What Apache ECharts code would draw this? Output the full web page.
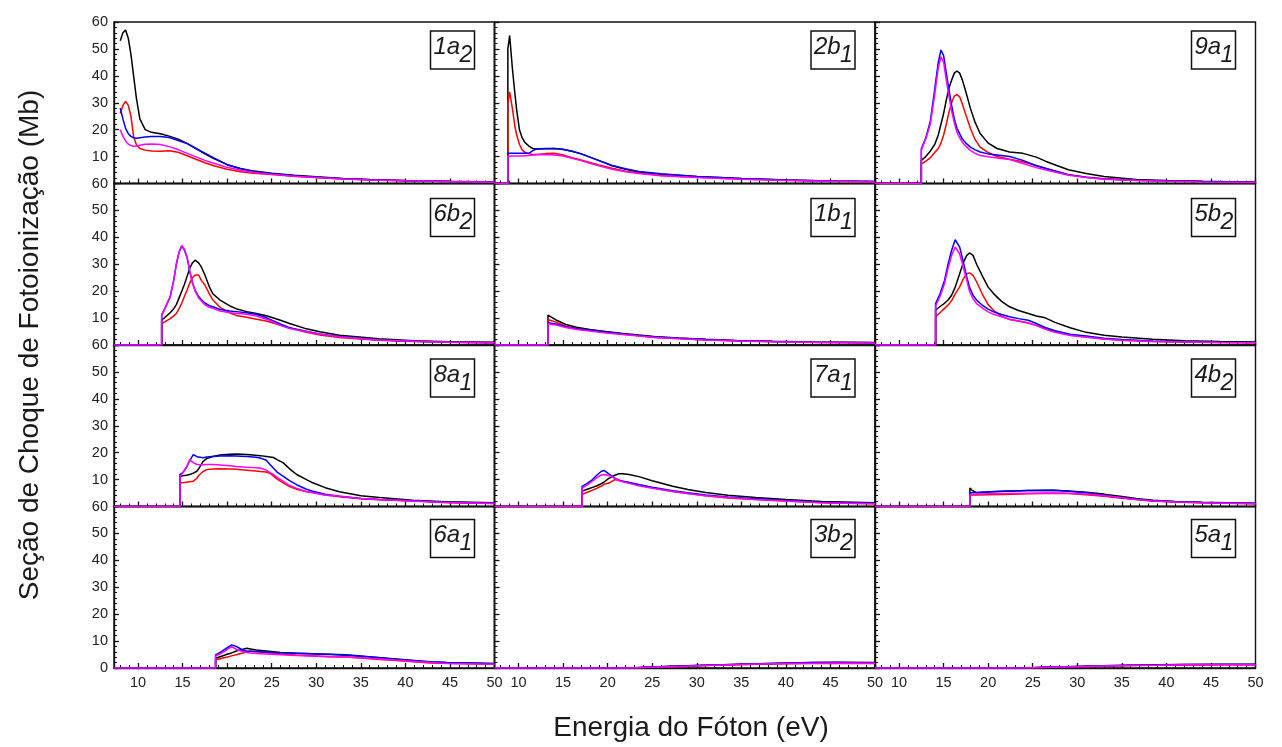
<!DOCTYPE html>
<html>
<head>
<meta charset="utf-8">
<script src="https://cdn.jsdelivr.net/npm/echarts@6/dist/echarts.min.js"></script>
<style>
  html, body { margin: 0; padding: 0; background: #fff; }
  #chart { width: 1282px; height: 747px; }
</style>
</head>
<body>
<div id="chart"></div>
<script>
// tick labels
var xTicks = [10, 15, 20, 25, 30, 35, 40, 45, 50];
var xMinor = [8, 9, 11, 12, 13, 14, 16, 17, 18, 19, 21, 22, 23, 24, 26, 27, 28, 29,
              31, 32, 33, 34, 36, 37, 38, 39, 41, 42, 43, 44, 46, 47, 48, 49];

// 1a2
var E_1a2 = [8.0, 8.3, 8.6, 8.9, 9.2, 9.5, 9.8, 10.2, 10.8, 11.5, 12.5, 13.5, 14.5, 15.5, 16.5, 17.5, 18.5, 20, 21.5, 23, 25, 27.5, 30, 33, 36, 40, 45, 50];
var K_1a2 = [53, 56, 57, 54, 48, 40, 32, 24, 20, 19, 18.5, 17.6, 16.5, 14.9, 13, 11, 9.3, 7, 5.6, 4.6, 3.8, 3.1, 2.5, 1.9, 1.5, 1.1, 0.8, 0.6];
var R_1a2 = [26, 29, 30.5, 29, 25, 17.5, 14.5, 13, 12.4, 12.1, 12, 12.2, 11.6, 10.3, 9, 7.7, 6.6, 5.3, 4.4, 3.8, 3.3, 2.7, 2.2, 1.7, 1.4, 1.0, 0.7, 0.5];
var B_1a2 = [28, 24, 20.5, 18.5, 17.5, 17, 16.8, 17, 17.3, 17.5, 17.5, 17.1, 16, 14.8, 13, 11.3, 9.5, 7, 5.5, 4.5, 3.6, 2.9, 2.3, 1.8, 1.4, 1.0, 0.7, 0.5];
var M_1a2 = [20, 17.5, 15.8, 14.6, 14.1, 13.8, 13.9, 14.2, 14.6, 14.7, 14.5, 13.7, 12.6, 11.2, 9.9, 8.6, 7.5, 6, 4.9, 4.1, 3.4, 2.7, 2.2, 1.7, 1.3, 1.0, 0.7, 0.5];

// 2b1
var E_2b1 = [7.3, 8.8, 8.8, 9.0, 9.3, 9.6, 9.8, 10.1, 10.4, 10.7, 11.2, 11.6, 12.0, 13.0, 14.0, 15.0, 16.0, 17.0, 18.0, 19.0, 20.5, 22, 23.5, 26, 30, 35, 40, 45, 50];
var K_2b1 = [0, 0, 50, 55, 43, 33, 27, 20, 17, 15.3, 13.8, 13, 12.8, 12.9, 13, 12.7, 12, 11, 9.8, 8.6, 6.6, 5.3, 4.3, 3.4, 2.6, 1.9, 1.3, 0.9, 0.7];
var R_2b1 = [0, 0, 30, 34, 28, 21, 18, 14.5, 12.5, 11.6, 11, 10.8, 10.8, 11.1, 11.2, 10.6, 9.6, 8.7, 7.8, 6.9, 5.7, 4.6, 3.9, 3.0, 2.3, 1.7, 1.2, 0.8, 0.6];
var B_2b1 = [0, 0, 11.2, 11.2, 11.2, 11.2, 11.2, 11.2, 11.2, 11.2, 11.3, 12.2, 12.8, 13, 13, 12.6, 12, 11.1, 9.8, 8.5, 6.7, 5.5, 4.5, 3.6, 2.6, 1.9, 1.3, 0.9, 0.7];
var M_2b1 = [0, 0, 10.2, 10.2, 10.2, 10.2, 10.2, 10.2, 10.2, 10.3, 10.4, 10.6, 10.7, 10.8, 10.6, 10.2, 9.4, 8.5, 7.5, 6.6, 5.3, 4.4, 3.7, 2.9, 2.2, 1.6, 1.1, 0.8, 0.6];

// 9a1
var E_9a1 = [7.3, 12.5, 12.5, 13.0, 13.5, 14.0, 14.4, 14.7, 15.0, 15.3, 15.6, 15.9, 16.2, 16.5, 16.8, 17.1, 17.5, 18.0, 18.5, 19.1, 20, 21, 22.4, 23.9, 25.4, 26.5, 27.7, 29, 31, 33, 36.6, 40, 44, 50];
var K_9a1 = [0, 0, 8.6, 10, 12, 14.5, 18, 22, 26, 31, 35.5, 38.4, 41, 41.8, 41, 38.5, 34, 28, 23, 18.6, 15, 13, 11.7, 11.2, 9.8, 8.2, 6.7, 5.1, 3.7, 2.6, 1.5, 1.1, 0.8, 0.5];
var R_9a1 = [0, 0, 7.3, 8.3, 9.5, 11.5, 13, 15, 18, 22, 26.5, 30, 32.5, 33, 32.2, 29.5, 25.5, 20.5, 16.5, 13.5, 11.5, 10, 9, 8.1, 6.7, 5.6, 4.5, 3.3, 2.3, 1.8, 1.2, 0.9, 0.7, 0.5];
var B_9a1 = [0, 0, 12.9, 17, 23, 35, 45, 49.6, 47.5, 41, 35, 29, 24, 20.5, 18.5, 16.5, 15, 13.5, 12.6, 11.7, 11, 10.6, 10, 8.6, 6.6, 5.6, 4.5, 3.3, 2.3, 1.7, 1.2, 0.9, 0.7, 0.5];
var M_9a1 = [0, 0, 12.5, 16.5, 22, 33, 43, 47.1, 45, 38.5, 32.5, 27, 22.5, 19, 17, 15.3, 13.8, 12.3, 11.3, 10.4, 9.9, 9.5, 8.9, 7.4, 5.9, 5, 4.1, 3.1, 2.2, 1.6, 1.1, 0.8, 0.6, 0.4];

// 6b2
var E_6b2 = [7.3, 12.65, 12.65, 13.0, 13.6, 14.0, 14.3, 14.6, 14.9, 15.2, 15.5, 15.8, 16.1, 16.4, 16.8, 17.1, 17.5, 18.0, 18.4, 19.2, 20.3, 21, 22.2, 23.3, 24.5, 25.9, 27, 28.9, 30.4, 32.6, 34.5, 37, 41, 45, 50];
var K_6b2 = [0, 0, 9.3, 10.2, 12, 13.5, 15, 17.5, 20, 22.5, 25.5, 28.5, 30.5, 31.5, 30.5, 29, 26, 21.6, 19, 16.7, 14.5, 13.5, 12.4, 11.7, 10.8, 9.3, 8, 6, 4.9, 3.6, 3.1, 2.3, 1.6, 1.2, 1.0];
var R_6b2 = [0, 0, 8, 8.6, 9.8, 10.8, 11.7, 13.5, 15.5, 18, 20.4, 23, 25, 26, 26, 24, 22.3, 19, 16.7, 14, 11.9, 11, 10.3, 9.6, 8.8, 7.4, 6.3, 4.7, 3.7, 2.8, 2.3, 1.8, 1.3, 1.0, 0.8];
var B_6b2 = [0, 0, 11.1, 13.5, 17.9, 24, 30, 34.5, 36.8, 35.3, 32.5, 27.5, 23.2, 20.3, 18, 16.8, 15.6, 14.6, 14.2, 13.2, 12.6, 12.4, 12.0, 11.3, 10.0, 7.9, 6.4, 5.1, 4.1, 3.2, 2.6, 1.9, 1.4, 1.0, 0.8];
var M_6b2 = [0, 0, 11.1, 13.5, 17.9, 24, 30.2, 34.5, 37, 35.5, 32.7, 27.5, 23, 20, 17.5, 16.3, 15, 14, 13.6, 12.6, 12, 11.8, 11.4, 10.8, 9.5, 7.4, 6.1, 4.9, 4.0, 3.1, 2.5, 1.9, 1.4, 1.0, 0.8];

// 1b1
var E_1b1 = [7.3, 13.3, 13.3, 14.2, 15.3, 16.5, 18, 19.8, 21.7, 23.5, 25.4, 28, 31, 34.5, 38.5, 43, 50];
var K_1b1 = [0, 0, 11.1, 9.3, 7.6, 6.6, 5.8, 5.0, 4.3, 3.7, 3.1, 2.6, 2.1, 1.7, 1.4, 1.1, 0.9];
var R_1b1 = [0, 0, 9.5, 8.5, 7.0, 6.1, 5.4, 4.7, 4.0, 3.4, 2.8, 2.4, 1.9, 1.6, 1.3, 1.0, 0.8];
var B_1b1 = [0, 0, 8.3, 7.8, 6.8, 6.0, 5.5, 4.8, 4.1, 3.5, 3.0, 2.5, 2.0, 1.6, 1.3, 1.0, 0.8];
var M_1b1 = [0, 0, 7.9, 7.4, 6.5, 5.8, 5.2, 4.5, 3.9, 3.3, 2.8, 2.3, 1.9, 1.5, 1.2, 0.9, 0.7];

// 5b2
var E_5b2 = [7.3, 14.1, 14.1, 14.6, 15.1, 15.5, 15.9, 16.3, 16.8, 17.2, 17.6, 17.9, 18.3, 18.7, 19.4, 20.0, 20.6, 21.5, 22.4, 23.4, 24.5, 25.4, 26.4, 27.5, 29.2, 31, 33, 35, 38.5, 42, 46, 50];
var K_5b2 = [0, 0, 13, 14.3, 15.5, 16.7, 18.5, 21.5, 26.5, 30.5, 33.3, 34.2, 33.3, 30, 25.3, 21.5, 19.1, 16.2, 14.2, 12.8, 11.7, 10.8, 10.1, 8.4, 6.4, 4.7, 3.6, 3.0, 2.1, 1.6, 1.3, 1.1];
var R_5b2 = [0, 0, 10.5, 12, 13.6, 14.8, 16.5, 19, 21.6, 24.5, 26.5, 26.8, 25.9, 23.5, 18.5, 15, 12.9, 10.7, 9.5, 8.9, 8.2, 7.3, 6.2, 5.1, 3.7, 3.0, 2.2, 1.8, 1.3, 1.1, 0.9, 0.8];
var B_5b2 = [0, 0, 15.4, 19, 24, 30, 35.2, 39.1, 36.4, 31, 25.3, 21.5, 18.5, 16.7, 14.6, 13.3, 12.3, 11.3, 10.5, 9.8, 9.2, 8.0, 6.5, 5.3, 4.0, 3.3, 2.5, 2.0, 1.5, 1.2, 1.0, 0.9];
var M_5b2 = [0, 0, 14.5, 18, 22.8, 28.5, 33.3, 36.4, 33.8, 29, 24, 20, 17.2, 15.4, 13.6, 12.3, 11.4, 10.5, 9.6, 8.9, 8.2, 7.2, 5.8, 4.7, 3.5, 2.9, 2.2, 1.8, 1.3, 1.1, 0.9, 0.8];

// 8a1
var E_8a1 = [7.3, 14.7, 14.7, 15.0, 15.4, 15.8, 16.2, 16.6, 16.8, 17.3, 17.7, 18.4, 19.2, 20.3, 21, 22.2, 23.2, 23.7, 24.4, 24.8, 25.2, 25.6, 26.3, 27, 27.8, 28.9, 29.6, 31, 32.6, 35, 37.1, 40.8, 44.5, 50];
var K_8a1 = [0, 0, 11.2, 11.4, 11.6, 11.9, 12.4, 13.1, 14, 16.8, 17.8, 18.6, 19.1, 19.4, 19.5, 19.3, 19, 18.9, 18.6, 18.4, 18.2, 17.4, 16.2, 14, 11.9, 10, 8.8, 7, 5.5, 4.0, 3.3, 2.3, 1.8, 1.4];
var R_8a1 = [0, 0, 8.8, 8.8, 9.0, 9.2, 9.4, 10.5, 11.5, 13, 13.7, 13.9, 14, 13.9, 13.8, 13.5, 13.2, 13, 12.8, 12.3, 11.3, 10.2, 8.8, 7.4, 6.4, 5.5, 5.2, 4.3, 3.6, 2.9, 2.5, 2.0, 1.5, 1.1];
var B_8a1 = [0, 0, 11.9, 12.5, 14.3, 17, 19.3, 18.5, 18, 18.1, 18.4, 18.6, 18.8, 18.9, 18.8, 18.6, 18.3, 18, 17.2, 15.6, 14.2, 12.8, 11.2, 9.6, 8.1, 6.4, 5.7, 4.6, 3.8, 3.0, 2.6, 2.1, 1.6, 1.2];
var M_8a1 = [0, 0, 11, 12.5, 14.5, 17.4, 16.3, 15.6, 15.5, 15.5, 15.6, 15.6, 15.4, 15.1, 14.9, 14.6, 14.4, 14.3, 13.5, 12.6, 11.9, 10.8, 9.3, 7.8, 6.7, 5.6, 5.1, 4.3, 3.8, 3.0, 2.6, 2.0, 1.5, 1.1];

// 7a1
var E_7a1 = [7.3, 17.13, 17.13, 17.7, 18.3, 18.8, 19.3, 19.6, 20.2, 20.8, 21.3, 21.7, 22.4, 23.6, 25, 27.3, 29, 31, 33.5, 36.6, 40, 44, 50];
var K_7a1 = [0, 0, 5.7, 6.4, 7.1, 7.7, 8.5, 9.1, 10.6, 11.6, 12.2, 12.2, 11.9, 11.0, 9.6, 7.5, 6.3, 5.2, 4.2, 3.3, 2.6, 1.9, 1.4];
var R_7a1 = [0, 0, 4.4, 5.3, 6.1, 6.8, 7.6, 8.3, 8.8, 10, 9.7, 9.4, 8.9, 8.0, 7.0, 5.6, 4.8, 4.0, 3.2, 2.6, 2.0, 1.4, 1.0];
var B_7a1 = [0, 0, 7.5, 8.6, 10, 11.7, 13.1, 13.4, 11.9, 10.5, 9.8, 9.4, 8.9, 8.1, 7.2, 5.9, 5.1, 4.3, 3.5, 2.9, 2.2, 1.6, 1.2];
var M_7a1 = [0, 0, 6.8, 8, 9.4, 10.8, 11.7, 11.9, 11.5, 10.5, 9.6, 9.2, 8.6, 7.6, 6.8, 5.6, 4.8, 4.0, 3.3, 2.6, 2.0, 1.4, 1.0];

// 4b2
var E_4b2 = [7.3, 17.95, 17.95, 18.2, 18.7, 20, 21.7, 24.5, 27.3, 29, 31, 33, 34.8, 36.6, 38.5, 41, 44, 50];
var K_4b2 = [0, 0, 6.9, 6.0, 5.1, 5.4, 5.7, 5.9, 6.0, 5.8, 5.3, 4.6, 3.8, 3.0, 2.3, 1.9, 1.6, 1.2];
var R_4b2 = [0, 0, 4.3, 4.3, 4.3, 4.4, 4.5, 4.7, 4.9, 4.8, 4.4, 3.8, 3.2, 2.6, 2.0, 1.7, 1.4, 1.0];
var B_4b2 = [0, 0, 5.1, 5.1, 5.2, 5.5, 5.7, 5.9, 6.0, 5.7, 5.1, 4.2, 3.3, 2.7, 2.1, 1.8, 1.5, 1.1];
var M_4b2 = [0, 0, 4.5, 4.5, 4.6, 4.7, 4.8, 4.9, 5.0, 4.9, 4.6, 4.0, 3.3, 2.6, 2.0, 1.7, 1.4, 1.0];

// 6a1
var E_6a1 = [7.3, 18.7, 18.7, 19.3, 19.9, 20.5, 21.1, 21.8, 22.2, 22.6, 23.3, 26, 27.8, 31.6, 33.4, 37.2, 39, 42.8, 44.6, 50];
var K_6a1 = [0, 0, 3.6, 4.3, 5.0, 5.6, 6.4, 7.0, 7.3, 7.1, 6.7, 5.8, 5.5, 5.0, 4.7, 3.8, 3.3, 2.2, 2.0, 1.7];
var R_6a1 = [0, 0, 3.0, 3.5, 4.0, 4.5, 5.0, 5.6, 6.0, 6.3, 6.0, 5.2, 4.8, 4.2, 4.1, 3.2, 2.8, 1.9, 1.8, 1.4];
var B_6a1 = [0, 0, 4.9, 6.0, 7.3, 8.6, 7.9, 6.5, 6.3, 6.2, 6.1, 5.7, 5.5, 5.1, 4.9, 3.8, 3.2, 2.3, 2.0, 1.6];
var M_6a1 = [0, 0, 4.5, 5.4, 6.6, 7.9, 6.8, 6.0, 5.8, 5.6, 5.4, 4.9, 4.6, 4.2, 4.1, 3.3, 2.9, 2.0, 1.7, 1.4];

// 3b2
var E_3b2 = [7.3, 22.4, 22.4, 25, 28, 31, 34, 37, 40, 43, 46, 50];
var K_3b2 = [0, 0, 0.2, 0.4, 0.7, 1.0, 1.3, 1.6, 1.9, 2.0, 2.1, 2.0];
var R_3b2 = [0, 0, 0.2, 0.3, 0.6, 0.9, 1.2, 1.4, 1.6, 1.7, 1.8, 1.7];
var B_3b2 = [0, 0, 0.2, 0.4, 0.7, 1.0, 1.3, 1.6, 1.8, 2.0, 2.0, 1.9];
var M_3b2 = [0, 0, 0.2, 0.3, 0.6, 0.9, 1.2, 1.5, 1.7, 1.8, 1.9, 1.8];

// 5a1
var E_5a1 = [7.3, 24.2, 24.2, 27, 30, 33, 36, 39, 42, 46, 50];
var K_5a1 = [0, 0, 0.2, 0.4, 0.6, 0.8, 1.0, 1.2, 1.3, 1.4, 1.4];
var R_5a1 = [0, 0, 0.2, 0.3, 0.5, 0.7, 0.9, 1.0, 1.1, 1.2, 1.2];
var B_5a1 = [0, 0, 0.2, 0.4, 0.6, 0.8, 1.0, 1.1, 1.3, 1.3, 1.3];
var M_5a1 = [0, 0, 0.2, 0.3, 0.5, 0.7, 0.9, 1.0, 1.2, 1.2, 1.2];

var panels = [
    ['1a', '2', E_1a2, K_1a2, R_1a2, B_1a2, M_1a2],
    ['2b', '1', E_2b1, K_2b1, R_2b1, B_2b1, M_2b1],
    ['9a', '1', E_9a1, K_9a1, R_9a1, B_9a1, M_9a1],
    ['6b', '2', E_6b2, K_6b2, R_6b2, B_6b2, M_6b2],
    ['1b', '1', E_1b1, K_1b1, R_1b1, B_1b1, M_1b1],
    ['5b', '2', E_5b2, K_5b2, R_5b2, B_5b2, M_5b2],
    ['8a', '1', E_8a1, K_8a1, R_8a1, B_8a1, M_8a1],
    ['7a', '1', E_7a1, K_7a1, R_7a1, B_7a1, M_7a1],
    ['4b', '2', E_4b2, K_4b2, R_4b2, B_4b2, M_4b2],
    ['6a', '1', E_6a1, K_6a1, R_6a1, B_6a1, M_6a1],
    ['3b', '2', E_3b2, K_3b2, R_3b2, B_3b2, M_3b2],
    ['5a', '1', E_5a1, K_5a1, R_5a1, B_5a1, M_5a1]
];
var colors = ['#000000', '#ff0000', '#0000ff', '#ff00ff'];

// layout
var left0 = 114, top0 = 22, cellW = 380.5, cellH = 161.5;
var boxTop = [9, 15, 14, 13];
var font = '"Liberation Sans", Arial, sans-serif';

var grids = [], xAxes = [], yAxes = [], series = [], graphic = [];

function zip(xs, ys) {
    var out = [];
    for (var i = 0; i < xs.length; i++) out.push([xs[i], ys[i]]);
    return out;
}

panels.forEach(function (p, i) {
    var r = Math.floor(i / 3), c = i % 3;
    var gx = left0 + c * cellW, gy = top0 + r * cellH;
    grids.push({
        left: gx, top: gy, width: cellW, height: cellH,
        show: true, borderColor: '#111', borderWidth: 1.4,
        backgroundColor: 'transparent'
    });
    // main x axis with major ticks
    xAxes.push({
        type: 'value', gridIndex: i, min: 7.3, max: 50, position: 'bottom',
        axisLine: {show: true, onZero: false, lineStyle: {color: '#111', width: 1.4}},
        axisTick: {show: true, inside: true, length: 5, customValues: xTicks,
            lineStyle: {color: '#111', width: 1.3}},
        axisLabel: {show: r === 3, customValues: xTicks, margin: 7,
            fontFamily: font, fontSize: 14.5, color: '#222'},
        splitLine: {show: false}
    });
    // minor ticks
    xAxes.push({
        type: 'value', gridIndex: i, min: 7.3, max: 50, position: 'bottom',
        axisLine: {show: false},
        axisTick: {show: true, inside: true, length: 3, customValues: xMinor,
            lineStyle: {color: '#111', width: 1}},
        axisLabel: {show: false},
        splitLine: {show: false}
    });
    yAxes.push({
        type: 'value', gridIndex: i, min: 0, max: 60, interval: 10,
        axisLine: {show: true, lineStyle: {color: '#111', width: 1.4}},
        axisTick: {show: true, inside: true, length: 5, lineStyle: {color: '#111', width: 1.3}},
        minorTick: {show: true, splitNumber: 5, length: 3, lineStyle: {color: '#111', width: 1}},
        axisLabel: {
            show: c === 0, margin: 6, fontFamily: font, fontSize: 14.5, color: '#222',
            formatter: function (v) { return (v === 0 && r < 3) ? '' : String(v); }
        },
        splitLine: {show: false}
    });
    for (var k = 0; k < 4; k++) {
        series.push({
            type: 'line', xAxisIndex: 2 * i, yAxisIndex: i,
            data: zip(p[2], p[3 + k]),
            showSymbol: false, symbol: 'none', smooth: false,
            lineStyle: {color: colors[k], width: 1.5},
            z: 2 + k
        });
    }
    // boxed orbital label
    var bw = 44, bh = 38;
    var bx = gx + cellW - 20 - bw, by = gy + boxTop[r];
    graphic.push({type: 'rect', shape: {x: bx, y: by, width: bw, height: bh},
        style: {fill: '#fff', stroke: '#111', lineWidth: 1.5}, z: 50});
    graphic.push({type: 'text', x: bx + 3, y: by + 4, z: 51,
        style: {text: p[0], font: 'italic 24px ' + font, fill: '#1a1a1a', verticalAlign: 'top'}});
    graphic.push({type: 'text', x: bx + 29, y: by + 13, z: 51,
        style: {text: p[1], font: 'italic 23px ' + font, fill: '#1a1a1a', verticalAlign: 'top'}});
});

graphic.push({type: 'text', x: 30, y: 345, rotation: Math.PI / 2, z: 51,
    style: {text: 'Seção de Choque de Fotoionização (Mb)', font: '28px ' + font,
        fill: '#1a1a1a', align: 'center', verticalAlign: 'middle'}});
graphic.push({type: 'text', x: 691, y: 728, z: 51,
    style: {text: 'Energia do Fóton (eV)', font: '28px ' + font,
        fill: '#1a1a1a', align: 'center', verticalAlign: 'middle'}});

var myChart = echarts.init(document.getElementById('chart'));
myChart.setOption({
    animation: false,
    backgroundColor: '#fff',
    grid: grids,
    xAxis: xAxes,
    yAxis: yAxes,
    series: series,
    graphic: graphic
});
</script>
</body>
</html>
